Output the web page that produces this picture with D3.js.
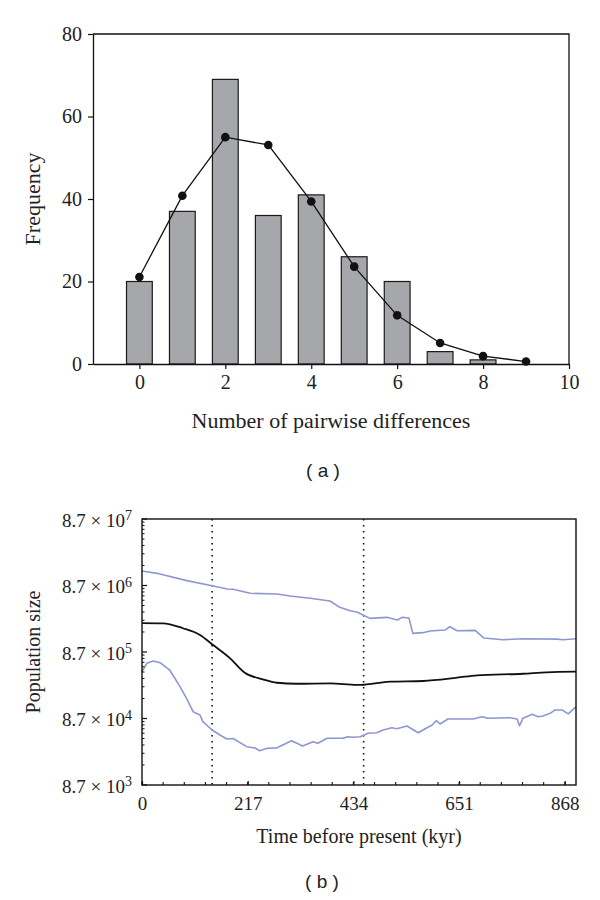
<!DOCTYPE html>
<html>
<head>
<meta charset="utf-8">
<script src="https://cdn.jsdelivr.net/npm/d3@7"></script>
<style>
  html, body { margin: 0; padding: 0; background: #fff; }
  svg { display: block; }
</style>
</head>
<body>
<svg id="chart" width="600" height="900"></svg>
<script>
// ---------- Panel (a): mismatch distribution ----------
const diffCategories = [0, 1, 2, 3, 4, 5, 6, 7, 8];
const observedFreq = [20, 37, 69, 36, 41, 26, 20, 3, 1];
const expectedDiffs = [0, 1, 2, 3, 4, 5, 6, 7, 8, 9];
const expectedFreq = [21.1, 40.8, 55.0, 53.1, 39.4, 23.6, 11.8, 5.1, 1.9, 0.6];
const aXTicks = [0, 2, 4, 6, 8, 10];
const aYTicks = [0, 20, 40, 60, 80];

// ---------- Panel (b): Bayesian skyline ----------
const medianKyr  = [0, 43, 84, 119, 146, 181, 211, 248, 277, 318, 386, 441, 456, 509, 577, 647, 688, 782, 831, 891];
const medianSize = [2.37e6, 2.35e6, 1.98e6, 1.57e6, 1.11e6, 6.99e5, 4.25e5, 3.38e5, 3.0e5, 2.9e5, 2.94e5, 2.78e5, 2.8e5, 3.11e5, 3.19e5, 3.58e5, 3.88e5, 4.1e5, 4.31e5, 4.4e5];

const upperKyr  = [0, 37, 92, 144, 175, 187, 222, 277, 304, 345, 386, 406, 427, 441, 468, 503, 524, 534, 548, 556, 577, 591, 622, 632, 647, 684, 702, 741, 782, 852, 864, 891];
const upperSize = [1.44e7, 1.30e7, 1.03e7, 8.64e6, 7.7e6, 7.65e6, 6.64e6, 6.48e6, 6.05e6, 5.59e6, 5.09e6, 4.09e6, 3.64e6, 3.48e6, 2.79e6, 2.89e6, 2.63e6, 2.89e6, 2.82e6, 1.66e6, 1.70e6, 1.80e6, 1.86e6, 2.09e6, 1.82e6, 1.84e6, 1.41e6, 1.33e6, 1.38e6, 1.36e6, 1.33e6, 1.38e6];

const lowerKyr  = [0, 10, 23, 37, 57, 78, 92, 105, 119, 125, 144, 160, 174, 187, 215, 232, 242, 257, 277, 289, 307, 330, 351, 361, 380, 413, 423, 433, 448, 464, 482, 495, 513, 523, 544, 567, 585, 595, 604, 612, 628, 680, 698, 710, 755, 770, 775, 782, 801, 813, 823, 838, 848, 862, 875, 891];
const lowerSize = [4.4e5, 5.88e5, 6.37e5, 6.0e5, 4.66e5, 2.62e5, 1.71e5, 1.10e5, 9.82e4, 7.79e4, 5.84e4, 4.91e4, 4.28e4, 4.35e4, 3.28e4, 3.13e4, 2.85e4, 3.1e4, 3.15e4, 3.48e4, 4.03e4, 3.36e4, 3.9e4, 3.69e4, 4.38e4, 4.41e4, 4.63e4, 4.55e4, 4.63e4, 5.21e4, 5.32e4, 5.84e4, 6.33e4, 6.11e4, 6.71e4, 5.32e4, 6.33e4, 6.87e4, 8.06e4, 7.19e4, 8.55e4, 8.55e4, 9.26e4, 8.76e4, 8.95e4, 8.55e4, 6.78e4, 8.76e4, 1.006e5, 9.26e4, 9.49e4, 1.04e5, 1.17e5, 1.17e5, 1.02e5, 1.31e5];

const bXTicks = [0, 217, 434, 651, 868];
const bYExponents = [3, 4, 5, 6, 7];
const bYBase = 8.7;
const dottedKyr = [144, 455];

const SERIF = "'Liberation Serif', 'Times New Roman', serif";
const SANS = "'Liberation Sans', Arial, sans-serif";
const svg = d3.select("#chart");

// ===== Panel (a) =====
{
  const L = 93, R = 569, T = 34, B = 364;
  const x = d3.scaleLinear().domain([-1.08, 10]).range([L, R]);
  const y = d3.scaleLinear().domain([0, 80]).range([B, T]);
  const g = svg.append("g");
  const bw = x(0.6) - x(0);

  g.selectAll("rect.bar").data(diffCategories).enter().append("rect")
    .attr("class", "bar")
    .attr("x", (d) => x(d) - bw / 2)
    .attr("width", bw)
    .attr("y", (d, i) => y(observedFreq[i]))
    .attr("height", (d, i) => y(0) - y(observedFreq[i]))
    .attr("fill", "#a6a7ab")
    .attr("stroke", "#1a1a1a")
    .attr("stroke-width", 1.2);

  const pts = expectedDiffs.map((d, i) => [d, expectedFreq[i]]);
  g.append("path").datum(pts)
    .attr("d", d3.line().x(d => x(d[0])).y(d => y(d[1])))
    .attr("fill", "none").attr("stroke", "#111").attr("stroke-width", 1.3);
  g.selectAll("circle").data(pts).enter().append("circle")
    .attr("cx", d => x(d[0])).attr("cy", d => y(d[1])).attr("r", 4.3)
    .attr("fill", "#111");

  // frame
  g.append("path").attr("d", `M${L},${T}H${R}V${B}`)
    .attr("fill", "none").attr("stroke", "#111").attr("stroke-width", 1.3);

  const xAxis = g.append("g").attr("transform", `translate(0,${B})`)
    .call(d3.axisBottom(x).tickValues(aXTicks).tickSize(5).tickPadding(6).tickSizeOuter(0));
  const yAxis = g.append("g").attr("transform", `translate(${L},0)`)
    .call(d3.axisLeft(y).tickValues(aYTicks).tickSize(5).tickPadding(6).tickSizeOuter(0));
  [xAxis, yAxis].forEach(a => {
    a.select(".domain").attr("stroke", "#111").attr("stroke-width", 1.3);
    a.selectAll(".tick line").attr("stroke", "#111").attr("stroke-width", 1.2);
    a.selectAll(".tick text").attr("font-family", SERIF).attr("font-size", 20).attr("fill", "#222");
  });

  g.append("text").attr("x", (L + R) / 2).attr("y", 428)
    .attr("text-anchor", "middle").attr("font-family", SERIF).attr("font-size", 22).attr("fill", "#222")
    .text("Number of pairwise differences");
  g.append("text").attr("transform", `translate(40,${(T + B) / 2}) rotate(-90)`)
    .attr("text-anchor", "middle").attr("font-family", SERIF).attr("font-size", 22).attr("fill", "#222")
    .text("Frequency");
  g.append("text").attr("x", 323).attr("y", 477)
    .attr("text-anchor", "middle").attr("font-family", SANS).attr("font-size", 19).attr("fill", "#222")
    .attr("xml:space", "preserve")
    .text("( a )");
}

// ===== Panel (b) =====
{
  const L = 142, R = 576, T = 519, B = 785;
  const x = d3.scaleLinear().domain([0, 891]).range([L, R]);
  const y = d3.scaleLog().domain([bYBase * 1e3, bYBase * 1e7]).range([B, T]);
  const g = svg.append("g");

  // dotted reference lines
  g.selectAll("line.ref").data(dottedKyr).enter().append("line")
    .attr("class", "ref")
    .attr("x1", d => x(d)).attr("x2", d => x(d)).attr("y1", T).attr("y2", B)
    .attr("stroke", "#111").attr("stroke-width", 1.6).attr("stroke-dasharray", "1.6,4.4");

  const series = [
    { k: upperKyr, v: upperSize, c: "#8f97cf", w: 1.6, curve: d3.curveLinear },
    { k: lowerKyr, v: lowerSize, c: "#8f97cf", w: 1.6, curve: d3.curveLinear },
    { k: medianKyr, v: medianSize, c: "#111", w: 1.8, curve: d3.curveMonotoneX }
  ];
  series.forEach(s => {
    const line = d3.line().x(d => x(d[0])).y(d => y(d[1])).curve(s.curve);
    g.append("path").datum(s.k.map((d, i) => [d, s.v[i]]))
      .attr("d", line).attr("fill", "none").attr("stroke", s.c).attr("stroke-width", s.w)
      .attr("stroke-linejoin", "round");
  });

  // frame
  g.append("rect").attr("x", L).attr("y", T).attr("width", R - L).attr("height", B - T)
    .attr("fill", "none").attr("stroke", "#111").attr("stroke-width", 1.4);

  // x axis ticks (inside)
  const xMinor = d3.range(0, 891, 217 / 5);
  g.append("g").selectAll("line").data(xMinor).enter().append("line")
    .attr("x1", d => x(d)).attr("x2", d => x(d)).attr("y1", B).attr("y2", B - 3)
    .attr("stroke", "#111").attr("stroke-width", 1.1);
  const xAxis = g.append("g").attr("transform", `translate(0,${B})`)
    .call(d3.axisBottom(x).tickValues(bXTicks).tickSize(-4).tickPadding(12).tickSizeOuter(0));
  xAxis.select(".domain").remove();
  xAxis.selectAll(".tick line").attr("stroke", "#111").attr("stroke-width", 1.2);
  xAxis.selectAll(".tick text").attr("font-family", SERIF).attr("font-size", 19).attr("fill", "#222");

  // y axis ticks (inside), major + minor
  const yMinor = [];
  bYExponents.slice(0, -1).forEach(e => {
    for (let k = 2; k <= 9; k++) yMinor.push(bYBase * k * Math.pow(10, e));
  });
  g.append("g").selectAll("line").data(yMinor).enter().append("line")
    .attr("x1", L).attr("x2", L + 2.5).attr("y1", d => y(d)).attr("y2", d => y(d))
    .attr("stroke", "#111").attr("stroke-width", 1);
  const yMajor = bYExponents.map(e => bYBase * Math.pow(10, e));
  g.append("g").selectAll("line").data(yMajor).enter().append("line")
    .attr("x1", L).attr("x2", L + 5).attr("y1", d => y(d)).attr("y2", d => y(d))
    .attr("stroke", "#111").attr("stroke-width", 1.2);

  const yl = g.append("g").selectAll("text").data(bYExponents).enter().append("text")
    .attr("x", L - 10).attr("y", e => y(bYBase * Math.pow(10, e)))
    .attr("dy", "0.4em")
    .attr("text-anchor", "end").attr("font-family", SERIF).attr("font-size", 19).attr("fill", "#222");
  yl.append("tspan").text("8.7 \u00d7 10");
  yl.append("tspan").attr("dy", "-0.45em").attr("font-size", 14).text(e => e);

  g.append("text").attr("x", (L + R) / 2).attr("y", 843)
    .attr("text-anchor", "middle").attr("font-family", SERIF).attr("font-size", 20).attr("fill", "#222")
    .text("Time before present (kyr)");
  g.append("text").attr("transform", `translate(40,${(T + B) / 2}) rotate(-90)`)
    .attr("text-anchor", "middle").attr("font-family", SERIF).attr("font-size", 20).attr("fill", "#222")
    .text("Population size");
  g.append("text").attr("x", 322).attr("y", 888)
    .attr("text-anchor", "middle").attr("font-family", SANS).attr("font-size", 19).attr("fill", "#222")
    .attr("xml:space", "preserve")
    .text("( b )");
}
</script>
</body>
</html>
